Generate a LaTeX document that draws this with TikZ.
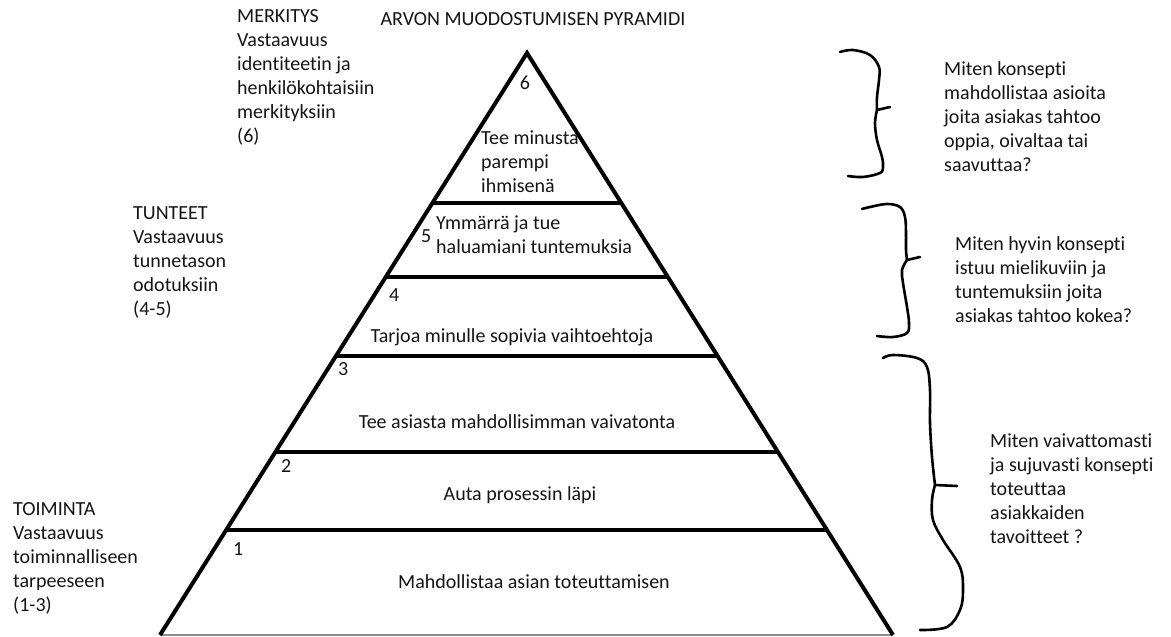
\documentclass[tikz,border=0pt]{standalone}
\usepackage{fontspec}
\setmainfont{Carlito}[Ligatures=NoCommon]
\usepackage{xcolor}
\usepackage{tikz}
\usetikzlibrary{calc}
\definecolor{InkBlack}{HTML}{000000}
\definecolor{TextInk}{HTML}{141414}
\definecolor{GroundGray}{HTML}{8C8C8C}

\begin{document}
\begin{tikzpicture}[x=1pt,y=-1pt,
  side/.style={InkBlack,line width=4pt},
  groundline/.style={GroundGray,line width=1.4pt},
  brace/.style={InkBlack,line width=2.6pt,line cap=round,line join=round},
  textblock/.style={text=TextInk,font=\fontsize{20}{24}\selectfont,inner sep=0pt,align=left,anchor=north west,execute at begin node=\strut},
  textline/.style={text=TextInk,font=\fontsize{20}{24}\selectfont,inner sep=0pt,anchor=base},
  levelnum/.style={textline,anchor=base west}]
  \useasboundingbox (0,0) rectangle (1171,637);

  \coordinate (apex) at (527,53);
  \coordinate (bl) at (160,635);
  \coordinate (br) at (893,635);
  \draw[groundline] (bl) -- (br);
  \draw[side] (bl) -- (apex) -- (br);
  \foreach \t in {0.258,0.385,0.521,0.686,0.820} {
    \draw[side] ($(apex)!\t!(bl)$) -- ($(apex)!\t!(br)$);
  }

  \node[textline] (title) at (533,25) {ARVON MUODOSTUMISEN PYRAMIDI};

  \node[textblock] (merkitys) at (237,9) {MERKITYS\\Vastaavuus\\identiteetin ja\\henkilökohtaisiin\\merkityksiin\\(6)};
  \node[textblock] (tunteet) at (133,206) {TUNTEET\\Vastaavuus\\tunnetason\\odotuksiin\\(4-5)};
  \node[textblock] (toiminta) at (13,502) {TOIMINTA\\Vastaavuus\\toiminnalliseen\\tarpeeseen\\(1-3)};

  \node[textline] (num6) at (525,89) {6};
  \node[levelnum] (num5) at (421,242) {5};
  \node[levelnum] (num4) at (389,301) {4};
  \node[levelnum] (num3) at (338,375) {3};
  \node[levelnum] (num2) at (281,472) {2};
  \node[levelnum] (num1) at (233,555) {1};

  \node[textblock] (level6) at (481,131) {Tee minusta\\parempi\\ihmisenä};
  \node[textblock] (level5) at (436,216) {Ymmärrä ja tue\\haluamiani tuntemuksia};
  \node[textline] (level4) at (512,342) {Tarjoa minulle sopivia vaihtoehtoja};
  \node[textline] (level3) at (517,428) {Tee asiasta mahdollisimman vaivatonta};
  \node[textline] (level2) at (520,500) {Auta prosessin läpi};
  \node[textline] (level1) at (534,588) {Mahdollistaa asian toteuttamisen};

  \draw[brace] plot[smooth,tension=0.6] coordinates {(840,52) (853,50) (870,55) (879,67) (879,80) (877,97) (877,110)} -- (890,107);
  \draw[brace] plot[smooth,tension=0.6] coordinates {(877,110) (875,123) (877,140) (882,157) (883,167) (880,173) (863,177) (848,176)};
  \draw[brace] plot[smooth,tension=0.6] coordinates {(862,209) (870,207) (887,204) (900,207) (905,217) (906,233) (906,250) (907,260)} -- (920,257);
  \draw[brace] plot[smooth,tension=0.6] coordinates {(907,260) (902,270) (903,283) (907,307) (909,323) (907,333) (893,337) (877,336)};
  \draw[brace] plot[smooth,tension=0.6] coordinates {(883,358) (893,355) (917,358) (927,367) (930,390) (930,423) (932,457) (935,485)} -- (957,486);
  \draw[brace] plot[smooth,tension=0.6] coordinates {(935,485) (932,500) (933,520) (943,540) (960,567) (963,590) (960,610) (947,627) (920,630)};

  \node[textblock] (ask6) at (944,61) {Miten konsepti\\mahdollistaa asioita\\joita asiakas tahtoo\\oppia, oivaltaa tai\\saavuttaa?};
  \node[textblock] (ask45) at (955,236) {Miten hyvin konsepti\\istuu mielikuviin ja\\tuntemuksiin joita\\asiakas tahtoo kokea?};
  \node[textblock] (ask13) at (990,434) {Miten vaivattomasti\\ja sujuvasti konsepti\\toteuttaa\\asiakkaiden\\tavoitteet ?};
\end{tikzpicture}
\end{document}
